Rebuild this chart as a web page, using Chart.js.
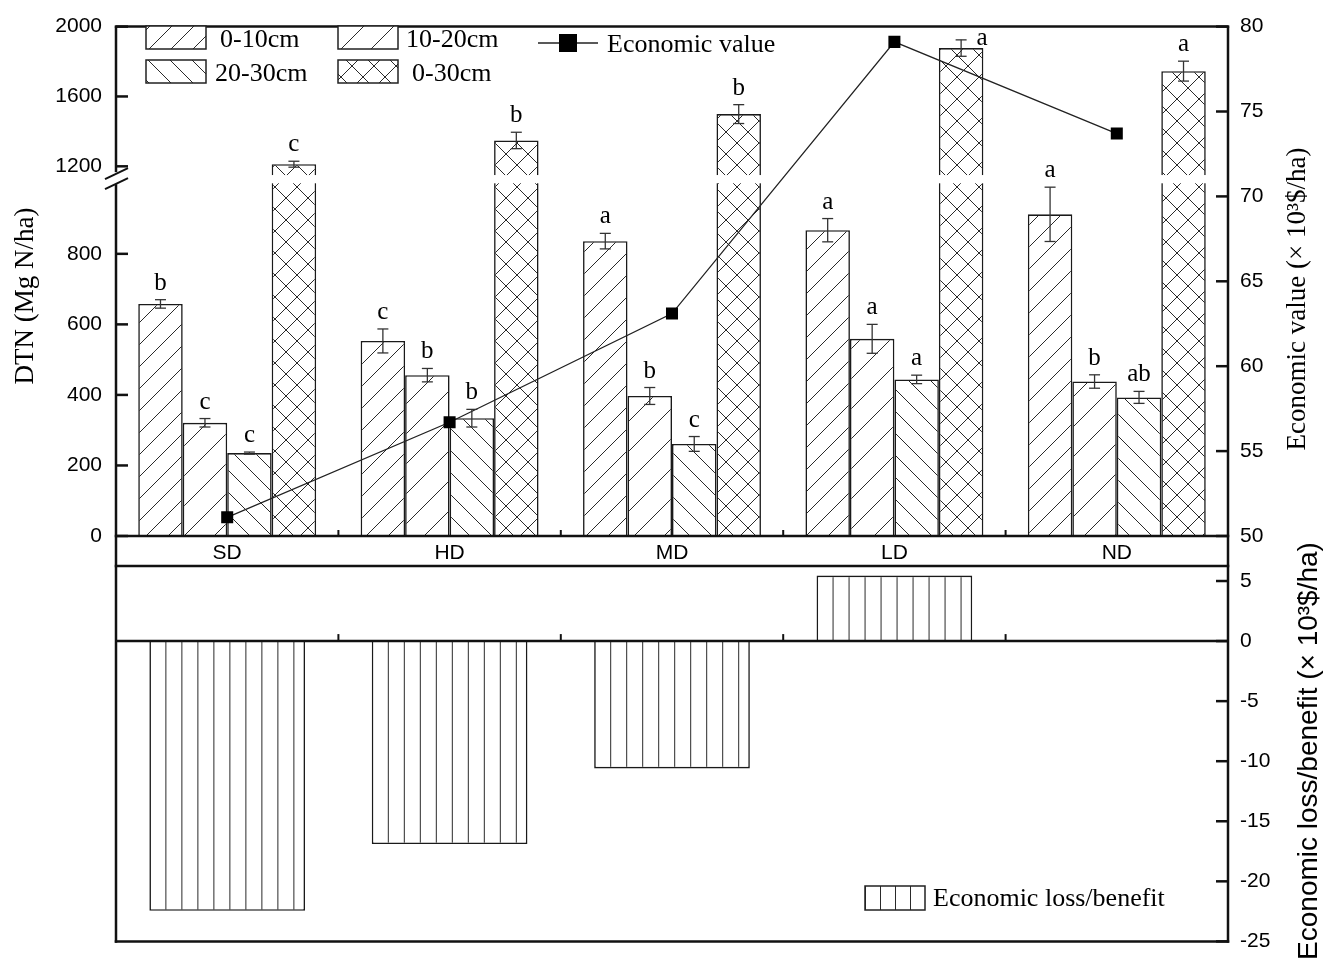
<!DOCTYPE html>
<html>
<head>
<meta charset="utf-8">
<script src="https://cdn.jsdelivr.net/npm/chart.js@4/dist/chart.umd.min.js"></script>
<style>
  html, body { margin: 0; padding: 0; background: #fff; }
  #wrap { position: relative; width: 1325px; height: 966px; }
  #wrap canvas { position: absolute; left: 0; top: 0; }
</style>
</head>
<body>
<div id="wrap">
  <canvas id="dtnChart" width="1325" height="966"></canvas>
  <canvas id="lossChart" width="1325" height="966"></canvas>
</div>
<script>
// ---- data ----
const sites = ['SD', 'HD', 'MD', 'LD', 'ND'];

const dtn0to10 = [658, 553, 836, 867, 912];
const err0to10 = [12, 34, 22, 33, 77];
const sig0to10 = ['b', 'c', 'a', 'a', 'a'];

const dtn10to20 = [321, 456, 397, 559, 438];
const err10to20 = [12, 19, 24, 41, 19];
const sig10to20 = ['c', 'b', 'b', 'a', 'b'];

const dtn20to30 = [235, 334, 261, 444, 393];
const err20to30 = [3, 25, 21, 12, 17];
const sig20to30 = ['c', 'b', 'c', 'a', 'ab'];

const dtn0to30 = [1212, 1348, 1499, 1877, 1745];
const err0to30 = [17, 47, 54, 47, 57];
const sig0to30 = ['c', 'b', 'b', 'a', 'a'];

const economicValue = [51.1, 56.7, 63.1, 79.1, 73.7];
const lossBenefit = [-22.45, -16.9, -10.6, 5.45, 0];

const dtnTicks = [0, 200, 400, 600, 800, 1200, 1600, 2000];
const valueTicks = [50, 55, 60, 65, 70, 75, 80];
const lossTicks = [-25, -20, -15, -10, -5, 0, 5];

// ---- fonts / colours ----
const SERIF = '"Liberation Serif", "Times New Roman", serif';
const SANS = '"Liberation Sans", Arial, sans-serif';
const INK = '#111';
Chart.defaults.font.family = SANS;
Chart.defaults.color = '#000';

// ---- hatch fills ----
function hatchTile(w, h, kinds) {
  const c = document.createElement('canvas');
  c.width = w; c.height = h;
  const g = c.getContext('2d');
  g.fillStyle = '#fff';
  g.fillRect(0, 0, w, h);
  g.strokeStyle = '#2a2a2a';
  g.lineWidth = 1;
  g.beginPath();
  kinds.forEach(k => {
    for (let i = -1; i <= 1; i++) {
      const o = i * w;
      if (k === '/') { g.moveTo(o, h); g.lineTo(o + w, 0); }
      if (k === '\\') { g.moveTo(o, 0); g.lineTo(o + w, h); }
    }
    if (k === '|') { g.moveTo(0.5, 0); g.lineTo(0.5, h); }
  });
  g.stroke();
  return g.createPattern(c, 'repeat');
}
const fill0to10 = hatchTile(22, 22, ['/']);
const fill10to20 = hatchTile(30, 30, ['/']);
const fill20to30 = hatchTile(22, 22, ['\\']);
const fill0to30 = hatchTile(22, 22, ['/', '\\']);
function verticalHatch(offsetX, step) {
  const p = hatchTile(step, 8, ['|']);
  p.setTransform(new DOMMatrix([1, 0, 0, 1, offsetX, 0]));
  return p;
}

// ---- linear axis with a break between two value ranges ----
class BrokenLinearScale extends Chart.LinearScale {
  static id = 'brokenLinear';
  static defaults = {};
  buildTicks() {
    this.start = this.min;
    this.end = this.max;
    return (this.options.tickValues || []).map(v => ({ value: v }));
  }
  _toDecimal(v) {
    const [b0, b1] = this.options.breakAt;
    const [d0, d1] = this.options.breakDecimals;
    if (v <= b0) return (v - this.min) / (b0 - this.min) * d0;
    if (v >= b1) return d1 + (v - b1) / (this.max - b1) * (1 - d1);
    return d0 + (v - b0) / (b1 - b0) * (d1 - d0);
  }
  getPixelForValue(v) {
    if (v === null || v === undefined || isNaN(v)) return NaN;
    return this.getPixelForDecimal(this._toDecimal(v));
  }
  getValueForPixel(p) {
    const d = this.getDecimalForPixel(p);
    const [b0, b1] = this.options.breakAt;
    const [d0, d1] = this.options.breakDecimals;
    if (d <= d0) return this.min + d / d0 * (b0 - this.min);
    if (d >= d1) return b1 + (d - d1) / (1 - d1) * (this.max - b1);
    return b0 + (d - d0) / (d1 - d0) * (b1 - b0);
  }
}
Chart.register(BrokenLinearScale);

// ---- drawing helpers ----
function seg(ctx, x1, y1, x2, y2, w) {
  ctx.beginPath();
  ctx.lineWidth = w;
  ctx.moveTo(x1, y1);
  ctx.lineTo(x2, y2);
  ctx.stroke();
}
function rotatedText(ctx, text, x, y, font) {
  ctx.save();
  ctx.translate(x, y);
  ctx.rotate(-Math.PI / 2);
  ctx.font = font;
  ctx.fillStyle = '#000';
  ctx.textAlign = 'center';
  ctx.textBaseline = 'alphabetic';
  ctx.fillText(text, 0, 0);
  ctx.restore();
}
function categoryBoundaries(xScale, n) {
  const out = [];
  for (let i = 0; i < n - 1; i++) {
    out.push((xScale.getPixelForValue(i) + xScale.getPixelForValue(i + 1)) / 2);
  }
  return out;
}

// ---- upper panel decorations ----
const dtnDecor = {
  id: 'dtnDecor',
  afterDatasetDraw(chart, args) {
    const ds = chart.data.datasets[args.index];
    if (!ds.crossesBreak) return;
    const y = chart.scales.y;
    const [b0, b1] = y.options.breakAt;
    const yLo = y.getPixelForValue(b0), yHi = y.getPixelForValue(b1);
    const ctx = chart.ctx;
    ctx.save();
    ctx.fillStyle = '#fff';
    args.meta.data.forEach(bar => {
      ctx.fillRect(bar.x - bar.width / 2 - 2, yHi, bar.width + 4, yLo - yHi);
    });
    ctx.restore();
  },
  afterDatasetsDraw(chart) {
    const ctx = chart.ctx;
    const y = chart.scales.y;
    const area = chart.chartArea;
    ctx.save();
    chart.data.datasets.forEach((ds, di) => {
      if (!ds.errors) return;
      const meta = chart.getDatasetMeta(di);
      meta.data.forEach((bar, i) => {
        const v = ds.data[i], e = ds.errors[i];
        const top = y.getPixelForValue(v + e), bot = y.getPixelForValue(v - e);
        ctx.strokeStyle = '#333';
        seg(ctx, bar.x, top, bar.x, bot, 1.3);
        seg(ctx, bar.x - 5.5, top, bar.x + 5.5, top, 1.3);
        seg(ctx, bar.x - 5.5, bot, bar.x + 5.5, bot, 1.3);
        ctx.font = '25px ' + SERIF;
        ctx.fillStyle = '#000';
        ctx.textAlign = 'center';
        ctx.textBaseline = 'alphabetic';
        const letter = ds.letters[i];
        const asc = ctx.measureText(letter).actualBoundingBoxAscent;
        let lx = bar.x, ly = top - 10;
        if (ly - asc < area.top) { lx = bar.x + 21; ly = top + 5; }
        ctx.fillText(letter, lx, ly);
      });
    });
    ctx.restore();
  },
  afterDraw(chart) {
    const ctx = chart.ctx;
    const { left, right, top, bottom } = chart.chartArea;
    const y = chart.scales.y, y2 = chart.scales.y2, x = chart.scales.x;
    ctx.save();
    ctx.strokeStyle = INK;
    // frame
    seg(ctx, left - 1.25, top, right + 1.25, top, 2.5);
    seg(ctx, left - 1.25, bottom, right + 1.25, bottom, 2.5);
    seg(ctx, left, top, left, bottom, 2.5);
    seg(ctx, right, top, right, bottom, 2.5);
    // inward ticks
    dtnTicks.forEach(v => { const p = y.getPixelForValue(v); seg(ctx, left, p, left + 12, p, 2.5); });
    valueTicks.forEach(v => { const p = y2.getPixelForValue(v); seg(ctx, right - 12, p, right, p, 2.5); });
    categoryBoundaries(x, sites.length).forEach(px => seg(ctx, px, bottom, px, bottom - 6, 2));
    // axis break marks
    const [b0, b1] = y.options.breakAt;
    const mid = (y.getPixelForValue(b0) + y.getPixelForValue(b1)) / 2;
    ctx.fillStyle = '#fff';
    ctx.fillRect(left - 3, mid - 7, 6, 12);
    seg(ctx, left - 11, mid + 0, left + 12, mid - 11, 2);
    seg(ctx, left - 11, mid + 10, left + 12, mid - 1, 2);
    // legend: bar fills
    const items = [
      { ds: 0, bx: 146, by: 26, tx: 220, ty: 47 },
      { ds: 1, bx: 338, by: 26, tx: 406, ty: 47 },
      { ds: 2, bx: 146, by: 60, tx: 215, ty: 81 },
      { ds: 3, bx: 338, by: 60, tx: 412, ty: 81 }
    ];
    ctx.font = '26px ' + SERIF;
    ctx.textAlign = 'left';
    ctx.textBaseline = 'alphabetic';
    items.forEach(it => {
      const ds = chart.data.datasets[it.ds];
      ctx.fillStyle = ds.backgroundColor;
      ctx.fillRect(it.bx, it.by, 60, 23);
      ctx.strokeStyle = '#222';
      ctx.lineWidth = 1.5;
      ctx.strokeRect(it.bx, it.by, 60, 23);
      ctx.fillStyle = '#000';
      ctx.fillText(ds.label, it.tx, it.ty);
    });
    // legend: line series
    const lineDs = chart.data.datasets[4];
    ctx.strokeStyle = '#222';
    seg(ctx, 538, 43, 598, 43, 1.3);
    ctx.fillStyle = '#000';
    ctx.fillRect(559, 34, 18, 18);
    ctx.fillText(lineDs.label, 607, 52);
    // axis titles
    rotatedText(ctx, y.options.title.text, 33, 296, '27px ' + SERIF);
    rotatedText(ctx, y2.options.title.text, 1305, 299, '27px ' + SERIF);
    ctx.restore();
  }
};

// ---- lower panel decorations ----
const lossDecor = {
  id: 'lossDecor',
  afterDatasetsDraw(chart) {
    const ctx = chart.ctx;
    const { left, right, top, bottom } = chart.chartArea;
    const y = chart.scales.y, x = chart.scales.x;
    const zero = y.getPixelForValue(0);
    ctx.save();
    ctx.strokeStyle = INK;
    // frame, joined to the upper panel through the label strip
    const stripTop = 536;
    seg(ctx, left, stripTop, left, bottom + 1.25, 2.5);
    seg(ctx, right, stripTop, right, bottom + 1.25, 2.5);
    seg(ctx, left - 1.25, top, right + 1.25, top, 2.5);
    seg(ctx, left - 1.25, bottom, right + 1.25, bottom, 2.5);
    seg(ctx, left, zero, right, zero, 2.5);
    lossTicks.forEach(v => { const p = y.getPixelForValue(v); seg(ctx, right - 12, p, right, p, 2.5); });
    categoryBoundaries(x, sites.length).forEach(px => seg(ctx, px, zero, px, zero - 7, 2));
    // legend
    const ds = chart.data.datasets[0];
    ctx.fillStyle = verticalHatch(865, 15);
    ctx.fillRect(865, 886, 60, 24);
    ctx.strokeStyle = '#222';
    ctx.lineWidth = 1.5;
    ctx.strokeRect(865, 886, 60, 24);
    ctx.fillStyle = '#000';
    ctx.font = '26px ' + SERIF;
    ctx.textAlign = 'left';
    ctx.textBaseline = 'alphabetic';
    ctx.fillText(ds.label, 933, 906);
    rotatedText(ctx, y.options.title.text, 1317, 751, '28px ' + SANS);
    ctx.restore();
  }
};

const tickFont = { family: SANS, size: 21 };
const hiddenGrid = { display: false, drawTicks: false };

// ---- upper panel: DTN bars + economic value line ----
new Chart(document.getElementById('dtnChart'), {
  type: 'bar',
  data: {
    labels: sites,
    datasets: [
      { label: '0-10cm', data: dtn0to10, errors: err0to10, letters: sig0to10, backgroundColor: fill0to10 },
      { label: '10-20cm', data: dtn10to20, errors: err10to20, letters: sig10to20, backgroundColor: fill10to20 },
      { label: '20-30cm', data: dtn20to30, errors: err20to30, letters: sig20to30, backgroundColor: fill20to30 },
      { label: '0-30cm', data: dtn0to30, errors: err0to30, letters: sig0to30, backgroundColor: fill0to30, crossesBreak: true },
      {
        type: 'line', label: 'Economic value', data: economicValue, yAxisID: 'y2', order: 0,
        borderColor: '#222', borderWidth: 1.3, pointStyle: 'rect', pointRadius: 8.5,
        pointBackgroundColor: '#000', pointBorderWidth: 0, tension: 0
      }
    ].map(d => d.type ? d : Object.assign(d, {
      yAxisID: 'y', order: 1, borderColor: '#1a1a1a', borderWidth: 1.6,
      barPercentage: 1.0, categoryPercentage: 0.8
    }))
  },
  options: {
    responsive: false,
    animation: false,
    events: [],
    layout: { padding: { top: 21, left: 0, right: 0, bottom: 400 } },
    plugins: { legend: { display: false }, tooltip: { enabled: false } },
    scales: {
      x: {
        grid: hiddenGrid, border: { display: false },
        ticks: { font: tickFont, color: '#000', padding: 5, maxRotation: 0 },
        afterFit: s => { s.height = 30; }
      },
      y: {
        type: 'brokenLinear', position: 'left', min: 0, max: 2000,
        tickValues: dtnTicks, breakAt: [1000, 1150], breakDecimals: [0.6924, 0.7086],
        grid: hiddenGrid, border: { display: false },
        title: { display: false, text: 'DTN (Mg N/ha)' },
        ticks: { font: tickFont, color: '#000', padding: 14, autoSkip: false, callback: v => String(v) },
        afterFit: s => { s.width = 116; }
      },
      y2: {
        type: 'linear', position: 'right', min: 50, max: 80,
        grid: hiddenGrid, border: { display: false },
        title: { display: false, text: 'Economic value (× 10³$/ha)' },
        afterBuildTicks: s => { s.ticks = valueTicks.map(v => ({ value: v })); },
        ticks: { font: tickFont, color: '#000', padding: 12, autoSkip: false, callback: v => String(v) },
        afterFit: s => { s.width = 97; }
      }
    }
  },
  plugins: [dtnDecor]
});

// ---- lower panel: economic loss / benefit ----
new Chart(document.getElementById('lossChart'), {
  type: 'bar',
  data: {
    labels: sites,
    datasets: [{
      label: 'Economic loss/benefit',
      data: lossBenefit,
      borderColor: '#1a1a1a', borderWidth: 1.6,
      barPercentage: 0.7, categoryPercentage: 1.0,
      backgroundColor: ctx => {
        const xs = ctx.chart.scales.x;
        if (!xs || ctx.dataIndex === undefined) return '#fff';
        const w = (xs.getPixelForValue(1) - xs.getPixelForValue(0)) * 0.7;
        return verticalHatch(xs.getPixelForValue(ctx.dataIndex) - w / 2, 16);
      }
    }]
  },
  options: {
    responsive: false,
    animation: false,
    events: [],
    layout: { padding: { top: 566, left: 116, right: 0, bottom: 22 } },
    plugins: { legend: { display: false }, tooltip: { enabled: false } },
    scales: {
      x: { display: false },
      y: {
        type: 'linear', position: 'right', min: -25, max: 6.25,
        grid: hiddenGrid, border: { display: false },
        title: { display: false, text: 'Economic loss/benefit (× 10³$/ha)' },
        afterBuildTicks: s => { s.ticks = lossTicks.map(v => ({ value: v })); },
        ticks: { font: tickFont, color: '#000', padding: 12, autoSkip: false, callback: v => String(v) },
        afterFit: s => { s.width = 97; }
      }
    }
  },
  plugins: [lossDecor]
});
</script>
</body>
</html>
